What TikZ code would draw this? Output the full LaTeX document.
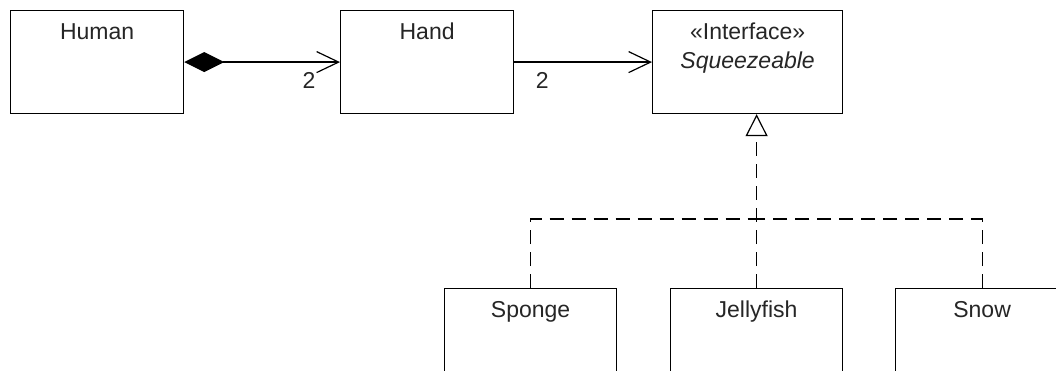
\documentclass[tikz,border=0pt]{standalone}
\usepackage{fontspec}
\setmainfont{Liberation Sans}
\usetikzlibrary{arrows.meta}

% class box: fixed height, name centred at the top
\newcommand\umlclass[3]{\parbox[t][#2][t]{#1}{\centering\rule{0pt}{29pt}#3}}

\begin{document}
\begin{tikzpicture}[x=1pt,y=-1pt,
  classbox/.style={draw=black, line width=1.2pt, inner sep=0pt, anchor=north west,
    fill=white, text=black!85, font=\fontsize{23}{29}\selectfont},
  mult/.style={inner sep=0pt, text=black!85, font=\fontsize{23}{29}\selectfont},
  assoc/.style={line width=1.2pt, -{Straight Barb[length=22pt, width=21pt, line width=1.2pt]}},
  compose/.style={assoc, {Diamond[length=40pt, width=20pt, fill=black]}-{Straight Barb[length=22pt, width=21pt, line width=1.2pt]}},
  realize/.style={line width=1.2pt, dash pattern=on 14pt off 8pt},
  realizetip/.style={realize, -{Triangle[open, length=22pt, width=22pt, fill=white, line width=1.2pt]}}
]
\useasboundingbox (0,0) rectangle (1056,371);
\clip (0,0) rectangle (1056,371);

% upper row
\node[classbox] (human) at (10,10) {\umlclass{173pt}{103pt}{Human}};
\node[classbox] (hand) at (340,10) {\umlclass{173pt}{103pt}{Hand}};
\node[classbox] (squeeze) at (652,10) {\umlclass{190pt}{103pt}{«Interface»\\\textit{Squeezeable}}};

% lower row (boxes run past the bottom edge)
\node[classbox] (sponge) at (444,288) {\umlclass{172pt}{120pt}{Sponge}};
\node[classbox] (jelly) at (670,288) {\umlclass{172pt}{120pt}{Jellyfish}};
\node[classbox] (snow) at (895,288) {\umlclass{173pt}{120pt}{Snow}};

% associations
\draw[compose] (human.east) -- (hand.west);
\draw[assoc] (hand.east) -- (squeeze.west);
\node[mult] (m1) at ([xshift=-31pt, yshift=-18pt]hand.west) {2};
\node[mult] (m2) at ([xshift=28pt, yshift=-18pt]hand.east) {2};

% realizations
\coordinate (bus) at (0,219);
\draw[realizetip] (jelly.north) -- (jelly.north |- squeeze.south);
\draw[realize] (sponge.north) |- (jelly.north |- bus);
\draw[realize] (snow.north) |- (jelly.north |- bus);
\end{tikzpicture}
\end{document}
